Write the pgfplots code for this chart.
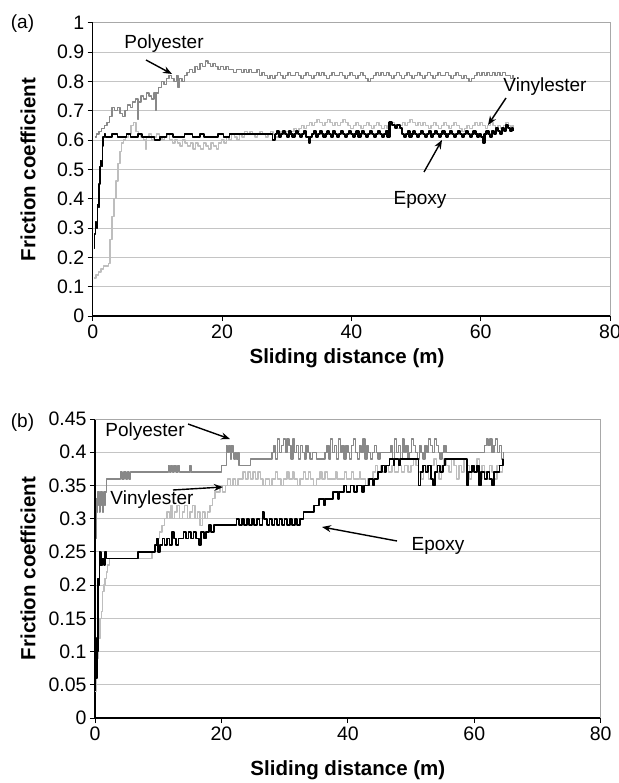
\documentclass[border=0pt]{standalone}
\usepackage{pgfplots}
\pgfplotsset{compat=1.18}
\usepackage{fontspec}
\setmainfont{Liberation Sans}
\usetikzlibrary{arrows.meta}
\definecolor{polyc}{HTML}{888888}
\definecolor{vinylc}{HTML}{BEBEBE}
\definecolor{gridc}{HTML}{C4C4C4}
\definecolor{borderc}{HTML}{A8A8A8}
\pgfplotsset{
  fricstyle/.style={
    scale only axis, anchor=south west,
    xmin=0, xmax=80, xtick={0,20,40,60,80},
    axis x line=bottom, axis y line=left,
    axis line style={-, black, line width=1.1pt},
    tick align=outside, major tick length=5pt,
    tick style={black, line width=1pt},
    ymajorgrids, grid style={gridc, line width=0.9pt},
    ticklabel style={font=\fontsize{19.5}{21}\selectfont},
    /pgf/number format/assume math mode=true,
    scaled y ticks=false,
    xlabel={Sliding distance (m)}, ylabel={Friction coefficient},
    label style={font=\fontsize{20.5}{22}\selectfont\bfseries},
    after end axis/.code={\draw[borderc, line width=0.9pt] (rel axis cs:0,1) -- (rel axis cs:1,1) -- (rel axis cs:1,0);},
    every axis plot/.append style={const plot, line width=1.4pt, line join=round},
  }
}
\begin{document}
\begin{tikzpicture}
\useasboundingbox (0pt,0pt) rectangle (618pt,-783pt);
% ---------------- (a)
\begin{axis}[fricstyle, at={(92.7pt,-316pt)}, width=517.3pt, height=293.3pt,
  ymin=0, ymax=1, ytick={0,0.1,...,1.01},
  yticklabel style={/pgf/number format/fixed, /pgf/number format/precision=1},
  xlabel style={at={(axis description cs:0.4916,-0.143)}, anchor=center},
  ylabel style={at={(axis description cs:-0.125,0.5)}, anchor=center}]
\addplot[polyc] coordinates {
(0.3,0.61)(0.6,0.62)(1.0,0.63)(1.4,0.64)(1.8,0.65)(2.2,0.66)(2.6,0.68)(3.0,0.71)(3.4,0.70)(3.8,0.71)
(4.2,0.69)(4.6,0.68)(5.0,0.70)(5.4,0.72)(5.8,0.71)(6.2,0.73)(6.6,0.74)(7.0,0.67)(7.1,0.73)(7.5,0.75)
(7.9,0.74)(8.3,0.76)(8.7,0.75)(9.1,0.74)(9.5,0.76)(9.7,0.70)(9.8,0.76)(10.2,0.78)(10.6,0.80)(11.0,0.79)
(11.4,0.81)(11.8,0.82)(12.2,0.81)(12.6,0.80)(13.0,0.82)(13.2,0.78)(13.4,0.81)(13.8,0.80)(14.2,0.82)(14.6,0.83)
(15.0,0.84)(15.4,0.83)(15.8,0.85)(16.2,0.84)(16.6,0.86)(17.0,0.85)(17.4,0.87)(17.8,0.86)(18.2,0.85)(18.6,0.86)
(19.0,0.85)(19.4,0.84)(19.8,0.85)(20.2,0.84)(20.6,0.85)(21.0,0.84)(21.4,0.84)(21.8,0.83)(22.2,0.84)(22.6,0.84)
(23.0,0.83)(23.4,0.84)(23.8,0.83)(24.2,0.84)(24.6,0.83)(25.0,0.83)(25.4,0.84)(25.8,0.82)(26.2,0.83)(26.6,0.82)
(27.0,0.81)(27.4,0.82)(27.8,0.81)(28.2,0.82)(28.6,0.83)(29.0,0.82)(29.4,0.81)(29.8,0.82)(30.2,0.83)(30.6,0.82)
(31.0,0.82)(31.4,0.83)(31.8,0.82)(32.2,0.81)(32.6,0.82)(33.0,0.83)(33.4,0.82)(33.8,0.81)(34.2,0.82)(34.6,0.83)
(35.0,0.82)(35.4,0.83)(35.8,0.82)(36.2,0.81)(36.6,0.82)(37.0,0.83)(37.4,0.82)(37.8,0.82)(38.2,0.83)(38.6,0.82)
(39.0,0.81)(39.4,0.82)(39.8,0.83)(40.2,0.82)(40.6,0.81)(41.0,0.82)(41.4,0.83)(41.8,0.82)(42.2,0.81)(42.6,0.80)
(43.0,0.81)(43.4,0.82)(43.8,0.83)(44.2,0.82)(44.6,0.83)(45.0,0.82)(45.4,0.83)(45.8,0.82)(46.2,0.81)(46.6,0.82)
(47.0,0.83)(47.4,0.82)(47.8,0.81)(48.2,0.82)(48.6,0.83)(49.0,0.82)(49.4,0.81)(49.8,0.82)(50.2,0.83)(50.6,0.82)
(51.0,0.81)(51.4,0.82)(51.8,0.83)(52.2,0.82)(52.6,0.81)(53.0,0.82)(53.4,0.83)(53.8,0.82)(54.2,0.82)(54.6,0.83)
(55.0,0.82)(55.4,0.81)(55.8,0.82)(56.2,0.83)(56.6,0.82)(57.0,0.81)(57.4,0.82)(57.8,0.81)(58.2,0.80)(58.6,0.81)
(59.0,0.82)(59.4,0.83)(59.8,0.82)(60.2,0.83)(60.6,0.82)(61.0,0.83)(61.4,0.82)(61.8,0.83)(62.2,0.82)(62.6,0.83)
(63.0,0.82)(63.4,0.83)(63.8,0.82)(64.2,0.82)(64.6,0.81)(65.0,0.82)};
\addplot[vinylc] coordinates {
(0.2,0.13)(0.5,0.14)(0.9,0.15)(1.3,0.16)(1.7,0.17)(2.1,0.17)(2.4,0.18)(2.7,0.26)(3.0,0.34)(3.3,0.40)
(3.6,0.46)(3.9,0.52)(4.2,0.56)(4.5,0.59)(4.8,0.60)(5.1,0.61)(5.5,0.62)(5.9,0.65)(6.3,0.66)(6.7,0.63)
(7.1,0.62)(7.5,0.61)(7.9,0.60)(8.2,0.57)(8.3,0.61)(8.7,0.62)(9.1,0.60)(9.5,0.61)(9.9,0.62)(10.3,0.61)
(10.7,0.60)(11.1,0.61)(11.5,0.62)(11.9,0.60)(12.3,0.59)(12.7,0.60)(13.1,0.59)(13.5,0.58)(13.9,0.60)(14.3,0.59)
(14.7,0.58)(15.1,0.59)(15.5,0.57)(15.9,0.59)(16.3,0.58)(16.7,0.57)(17.1,0.59)(17.5,0.58)(17.9,0.57)(18.3,0.59)
(18.7,0.58)(19.1,0.57)(19.5,0.59)(19.9,0.60)(20.3,0.59)(20.7,0.61)(21.1,0.60)(21.5,0.62)(21.9,0.61)(22.3,0.60)
(22.7,0.62)(23.1,0.61)(23.5,0.63)(23.9,0.62)(24.3,0.63)(24.7,0.62)(25.1,0.61)(25.5,0.62)(25.9,0.63)(26.3,0.62)
(26.7,0.61)(27.1,0.62)(27.5,0.63)(27.9,0.62)(28.3,0.61)(28.7,0.62)(29.1,0.63)(29.5,0.62)(29.9,0.63)(30.3,0.62)
(30.7,0.63)(31.1,0.64)(31.5,0.63)(31.9,0.64)(32.3,0.65)(32.7,0.64)(33.1,0.65)(33.5,0.66)(33.9,0.65)(34.3,0.66)
(34.7,0.67)(35.1,0.66)(35.5,0.65)(35.9,0.66)(36.3,0.67)(36.7,0.66)(37.1,0.65)(37.5,0.66)(37.9,0.65)(38.3,0.66)
(38.7,0.67)(39.1,0.66)(39.5,0.65)(39.9,0.64)(40.3,0.65)(40.7,0.66)(41.1,0.65)(41.5,0.64)(41.9,0.65)(42.3,0.66)
(42.7,0.65)(43.1,0.64)(43.5,0.65)(43.9,0.66)(44.3,0.65)(44.7,0.64)(45.1,0.65)(45.5,0.64)(45.9,0.65)(46.3,0.66)
(46.7,0.65)(47.1,0.64)(47.5,0.65)(47.9,0.66)(48.3,0.65)(48.7,0.66)(49.1,0.67)(49.5,0.66)(49.9,0.65)(50.3,0.66)
(50.7,0.65)(51.1,0.66)(51.5,0.65)(51.9,0.64)(52.3,0.65)(52.7,0.66)(53.1,0.65)(53.5,0.64)(53.9,0.65)(54.3,0.66)
(54.7,0.65)(55.1,0.64)(55.5,0.65)(55.9,0.66)(56.3,0.65)(56.7,0.64)(57.1,0.63)(57.5,0.64)(57.9,0.65)(58.3,0.64)
(58.7,0.65)(59.1,0.66)(59.5,0.65)(59.9,0.66)(60.3,0.65)(60.7,0.64)(61.1,0.65)(61.5,0.66)(61.9,0.65)(62.3,0.64)
(62.7,0.65)(63.1,0.64)(63.5,0.65)(63.9,0.66)(64.3,0.65)(64.7,0.64)(65.0,0.65)};
\addplot[black] coordinates {
(0.2,0.23)(0.3,0.28)(0.4,0.32)(0.55,0.30)(0.7,0.38)(0.9,0.37)(1.0,0.45)(1.1,0.51)(1.25,0.53)(1.4,0.51)
(1.5,0.58)(1.6,0.61)(1.8,0.62)(2.0,0.61)(3.0,0.62)(3.8,0.61)(5.2,0.62)(5.8,0.61)(7.0,0.62)(7.6,0.61)
(9.6,0.60)(10.4,0.61)(11.4,0.62)(12.4,0.61)(14.2,0.62)(15.4,0.61)(16.6,0.62)(17.2,0.61)(19.4,0.62)(20.2,0.61)
(21.2,0.62)(27.8,0.60)(28.2,0.62)};
\addplot[black, line width=2.2pt] coordinates {
(28.2,0.62)(28.5,0.63)(28.8,0.61)(29.1,0.62)(29.4,0.63)(29.7,0.62)(30.0,0.61)(30.3,0.63)
(30.6,0.62)(30.9,0.61)(31.2,0.62)(31.5,0.63)(31.8,0.62)(32.1,0.61)(32.4,0.62)(32.7,0.63)(33.0,0.61)(33.4,0.59)
(33.6,0.61)(33.9,0.62)(34.2,0.63)(34.5,0.61)(34.8,0.62)(35.1,0.63)(35.4,0.62)(35.7,0.61)(36.0,0.62)(36.3,0.63)
(36.6,0.62)(36.9,0.61)(37.2,0.63)(37.5,0.62)(37.8,0.61)(38.1,0.62)(38.4,0.63)(38.7,0.62)(39.0,0.61)(39.3,0.62)
(39.6,0.63)(39.9,0.62)(40.2,0.61)(40.5,0.62)(40.8,0.63)(41.1,0.61)(41.4,0.62)(41.7,0.63)(42.0,0.62)(42.3,0.61)
(42.6,0.62)(42.9,0.63)(43.2,0.62)(43.5,0.61)(43.8,0.62)(44.1,0.63)(44.4,0.62)(44.7,0.61)(45.0,0.62)(45.3,0.63)
(45.6,0.61)(45.9,0.66)(46.3,0.65)(46.7,0.64)(47.1,0.65)(47.5,0.64)(47.8,0.62)(48.1,0.61)(48.4,0.62)(48.7,0.63)
(49.0,0.61)(49.3,0.62)(49.6,0.63)(49.9,0.62)(50.2,0.61)(50.5,0.62)(50.8,0.63)(51.1,0.62)(51.4,0.61)(51.7,0.62)
(52.0,0.63)(52.3,0.61)(52.6,0.62)(52.9,0.63)(53.2,0.62)(53.5,0.61)(53.8,0.62)(54.1,0.63)(54.4,0.62)(54.7,0.61)
(55.0,0.62)(55.3,0.63)(55.6,0.62)(55.9,0.61)(56.2,0.62)(56.5,0.63)(56.8,0.62)(57.1,0.61)(57.4,0.62)(57.7,0.63)
(58.0,0.62)(58.3,0.61)(58.6,0.62)(58.9,0.63)(59.2,0.62)(59.5,0.61)(59.8,0.62)(60.1,0.61)(60.4,0.59)(60.6,0.62)
(60.9,0.63)(61.2,0.62)(61.5,0.61)(61.8,0.63)(62.1,0.62)(62.4,0.64)(62.7,0.63)(63.0,0.62)(63.3,0.64)(63.6,0.63)
(63.9,0.65)(64.2,0.64)(64.5,0.63)(64.8,0.64)(65.0,0.63)};
\end{axis}
% ---------------- (b)
\begin{axis}[fricstyle, at={(95pt,-718pt)}, width=505.7pt, height=299pt,
  ymin=0, ymax=0.45, ytick={0,0.05,...,0.451},
  yticklabel style={/pgf/number format/fixed, /pgf/number format/precision=2},
  xlabel style={at={(axis description cs:0.5,-0.174)}, anchor=center},
  ylabel style={at={(axis description cs:-0.1325,0.5)}, anchor=center}]
\addplot[polyc] coordinates {
(0.1,0.27)(0.2,0.33)(0.3,0.31)(0.4,0.34)(0.5,0.32)(0.6,0.34)(0.7,0.31)(0.8,0.33)(0.9,0.34)(1.0,0.32)
(1.1,0.34)(1.2,0.31)(1.3,0.33)(1.4,0.34)(1.5,0.32)(1.6,0.34)(1.8,0.36)(4.0,0.37)(4.3,0.36)(4.6,0.37)
(4.9,0.36)(5.1,0.37)(5.4,0.36)(5.6,0.37)(11.6,0.38)(11.8,0.37)(12.0,0.38)(12.3,0.37)(12.5,0.38)(12.8,0.37)
(13.1,0.38)(13.4,0.37)(15.0,0.38)(15.2,0.37)(20.0,0.38)(20.8,0.41)(21.0,0.40)(21.2,0.41)(21.4,0.39)(21.6,0.41)
(21.8,0.40)(22.0,0.39)(22.2,0.40)(22.4,0.39)(22.6,0.40)(22.8,0.38)(24.6,0.39)(28.0,0.40)(28.3,0.41)(28.6,0.39)
(28.9,0.42)(29.2,0.40)(29.5,0.41)(29.8,0.42)(30.1,0.40)(30.4,0.42)(30.7,0.41)(31.0,0.39)(31.3,0.42)(31.6,0.40)
(31.9,0.41)(32.2,0.39)(32.5,0.41)(32.8,0.40)(33.1,0.39)(33.4,0.41)(33.7,0.40)(34.0,0.39)(34.4,0.40)(35.0,0.39)
(36.4,0.40)(36.7,0.41)(37.0,0.39)(37.3,0.42)(37.6,0.40)(37.9,0.41)(38.2,0.39)(38.5,0.42)(38.8,0.40)(39.1,0.41)
(39.4,0.39)(39.7,0.41)(40.0,0.40)(40.3,0.39)(40.6,0.41)(40.9,0.42)(41.2,0.40)(41.5,0.39)(41.8,0.41)(42.1,0.40)
(42.4,0.42)(42.7,0.39)(43.0,0.41)(43.3,0.40)(43.6,0.39)(43.9,0.40)(44.2,0.41)(44.5,0.40)(44.8,0.39)(45.1,0.40)
(46.8,0.41)(47.1,0.39)(47.4,0.42)(47.7,0.40)(48.0,0.41)(48.3,0.39)(48.6,0.42)(48.9,0.40)(49.2,0.41)(49.5,0.39)
(49.8,0.40)(50.1,0.42)(50.4,0.41)(50.7,0.40)(51.0,0.39)(51.3,0.41)(51.6,0.40)(51.9,0.39)(52.2,0.41)(52.5,0.40)
(52.8,0.42)(53.1,0.41)(53.4,0.40)(53.7,0.42)(54.0,0.41)(54.3,0.40)(54.6,0.39)(54.9,0.40)(55.2,0.41)(55.5,0.40)
(61.6,0.41)(61.9,0.42)(62.2,0.41)(62.5,0.42)(62.8,0.40)(63.1,0.41)(63.4,0.42)(63.7,0.40)(64.0,0.41)(64.3,0.39)
(64.6,0.40)};
\addplot[vinylc] coordinates {
(0.0,0.04)(0.2,0.06)(0.4,0.09)(0.6,0.12)(0.8,0.15)(1.0,0.16)(1.2,0.19)(1.4,0.20)(1.6,0.21)(1.8,0.22)
(2.0,0.23)(2.3,0.24)(9.0,0.25)(9.4,0.26)(9.8,0.27)(10.2,0.28)(10.6,0.29)(11.0,0.30)(11.4,0.31)(11.8,0.30)
(12.0,0.32)(12.2,0.30)(12.6,0.31)(13.0,0.32)(13.4,0.30)(13.8,0.31)(14.2,0.32)(14.6,0.30)(15.0,0.31)(15.4,0.32)
(15.8,0.30)(16.2,0.31)(16.6,0.29)(17.0,0.31)(17.4,0.30)(17.8,0.31)(18.2,0.32)(18.6,0.33)(19.0,0.34)(19.4,0.34)
(19.8,0.35)(20.2,0.34)(20.6,0.35)(21.0,0.36)(21.4,0.35)(21.8,0.36)(22.2,0.35)(22.6,0.36)(23.0,0.36)(23.4,0.37)
(23.8,0.36)(24.2,0.37)(24.6,0.36)(25.0,0.37)(25.4,0.36)(25.8,0.37)(26.2,0.36)(26.6,0.35)(27.0,0.36)(27.6,0.35)
(28.0,0.36)(28.6,0.37)(28.9,0.36)(29.4,0.35)(29.8,0.36)(30.4,0.37)(30.7,0.36)(31.2,0.37)(31.5,0.36)(32.0,0.35)
(32.4,0.36)(33.0,0.37)(33.3,0.36)(33.8,0.37)(34.1,0.36)(34.6,0.35)(35.0,0.36)(35.6,0.37)(35.9,0.36)(36.4,0.37)
(36.8,0.36)(38.0,0.37)(38.3,0.36)(39.5,0.37)(39.8,0.36)(40.6,0.37)(40.9,0.36)(41.8,0.37)(42.0,0.36)(42.8,0.35)
(43.1,0.36)(44.0,0.37)(44.4,0.38)(44.7,0.37)(45.2,0.38)(45.5,0.37)(46.0,0.38)(46.4,0.37)(47.0,0.38)(47.4,0.37)
(48.0,0.38)(48.5,0.37)(49.0,0.38)(49.5,0.37)(50.0,0.38)(50.4,0.39)(50.8,0.38)(51.2,0.37)(51.6,0.36)(52.0,0.38)
(52.4,0.37)(52.8,0.36)(53.2,0.38)(53.6,0.39)(54.0,0.37)(54.4,0.36)(54.8,0.38)(55.2,0.39)(55.6,0.38)(56.0,0.37)
(56.4,0.39)(56.8,0.38)(57.2,0.36)(57.6,0.38)(58.0,0.37)(58.4,0.39)(58.8,0.38)(59.2,0.36)(59.6,0.38)(60.0,0.37)
(60.4,0.39)(60.8,0.36)(61.2,0.38)(61.6,0.37)(62.0,0.36)(62.4,0.38)(62.8,0.37)(63.2,0.36)(63.6,0.38)(64.0,0.37)
(64.5,0.39)};
\addplot[black, line width=1.7pt] coordinates {
(0.2,0.06)(0.3,0.12)(0.4,0.10)(0.5,0.21)(0.6,0.20)(0.7,0.25)(0.8,0.23)(0.9,0.25)(1.0,0.23)(1.2,0.24)
(1.4,0.23)(1.6,0.25)(1.8,0.24)(6.8,0.25)(9.5,0.26)(9.8,0.27)(10.0,0.25)(10.3,0.26)(10.7,0.27)(11.0,0.26)
(11.4,0.27)(11.8,0.26)(12.2,0.28)(12.5,0.27)(12.8,0.26)(13.2,0.27)(14.0,0.28)(14.4,0.27)(14.8,0.28)(15.2,0.27)
(15.6,0.28)(16.0,0.27)(16.4,0.26)(16.8,0.28)(17.2,0.27)(17.6,0.28)(18.0,0.29)(18.4,0.28)(18.8,0.29)(22.4,0.30)
(22.8,0.29)(23.2,0.30)(23.6,0.29)(24.0,0.30)(24.4,0.29)(24.8,0.30)(25.2,0.29)(25.6,0.30)(26.0,0.29)(26.5,0.31)
(26.7,0.30)(27.2,0.29)(27.6,0.30)(28.0,0.29)(28.4,0.30)(28.8,0.29)(29.2,0.30)(29.6,0.29)(30.0,0.30)(30.4,0.29)
(30.8,0.30)(31.2,0.29)(31.6,0.30)(32.0,0.29)(32.4,0.30)(33.0,0.31)(34.6,0.32)(35.4,0.33)(36.2,0.32)(36.4,0.33)
(37.6,0.34)(38.4,0.33)(38.6,0.34)(39.4,0.35)(39.8,0.34)(40.4,0.35)(41.0,0.34)(41.4,0.35)(42.2,0.34)(42.6,0.35)
(43.4,0.36)(44.0,0.35)(44.2,0.36)(44.8,0.37)(45.4,0.38)(45.8,0.37)(46.0,0.38)(46.6,0.39)(47.2,0.38)(47.4,0.39)
(48.0,0.38)(48.2,0.39)(51.2,0.35)(51.5,0.37)(51.9,0.38)(52.3,0.37)(52.7,0.38)(53.1,0.36)(53.5,0.35)(53.8,0.37)
(54.2,0.38)(54.6,0.37)(55.0,0.38)(55.4,0.39)(58.8,0.35)(59.1,0.37)(59.6,0.38)(60.0,0.37)(60.4,0.38)(60.8,0.35)
(61.1,0.37)(61.6,0.36)(62.0,0.37)(62.4,0.36)(62.8,0.35)(63.1,0.37)(63.6,0.37)(64.0,0.38)(64.5,0.39)};
\end{axis}
% ---------------- annotations
\begin{scope}[every node/.style={font=\fontsize{19}{21}\selectfont, inner sep=0pt},
  arr/.style={-{Stealth[length=9pt,width=7pt]}, line width=1.4pt}]
\node at (22.5pt,-24pt) {(a)};
\node at (22.5pt,-423pt) {(b)};
\node at (164pt,-44pt) {Polyester};
\draw[arr] (146pt,-60pt) -- (172pt,-74pt);
\node at (545pt,-87pt) {Vinylester};
\draw[arr] (506pt,-98pt) -- (488pt,-125pt);
\node at (420pt,-200pt) {Epoxy};
\draw[arr] (424pt,-172pt) -- (442pt,-140pt);
\node at (145pt,-432pt) {Polyester};
\draw[arr] (188pt,-424pt) -- (230pt,-439pt);
\node at (152pt,-500pt) {Vinylester};
\draw[arr] (173pt,-490pt) -- (223pt,-487pt);
\node at (438pt,-546pt) {Epoxy};
\draw[arr] (397pt,-541pt) -- (322pt,-527pt);
\end{scope}
\end{tikzpicture}
\end{document}
